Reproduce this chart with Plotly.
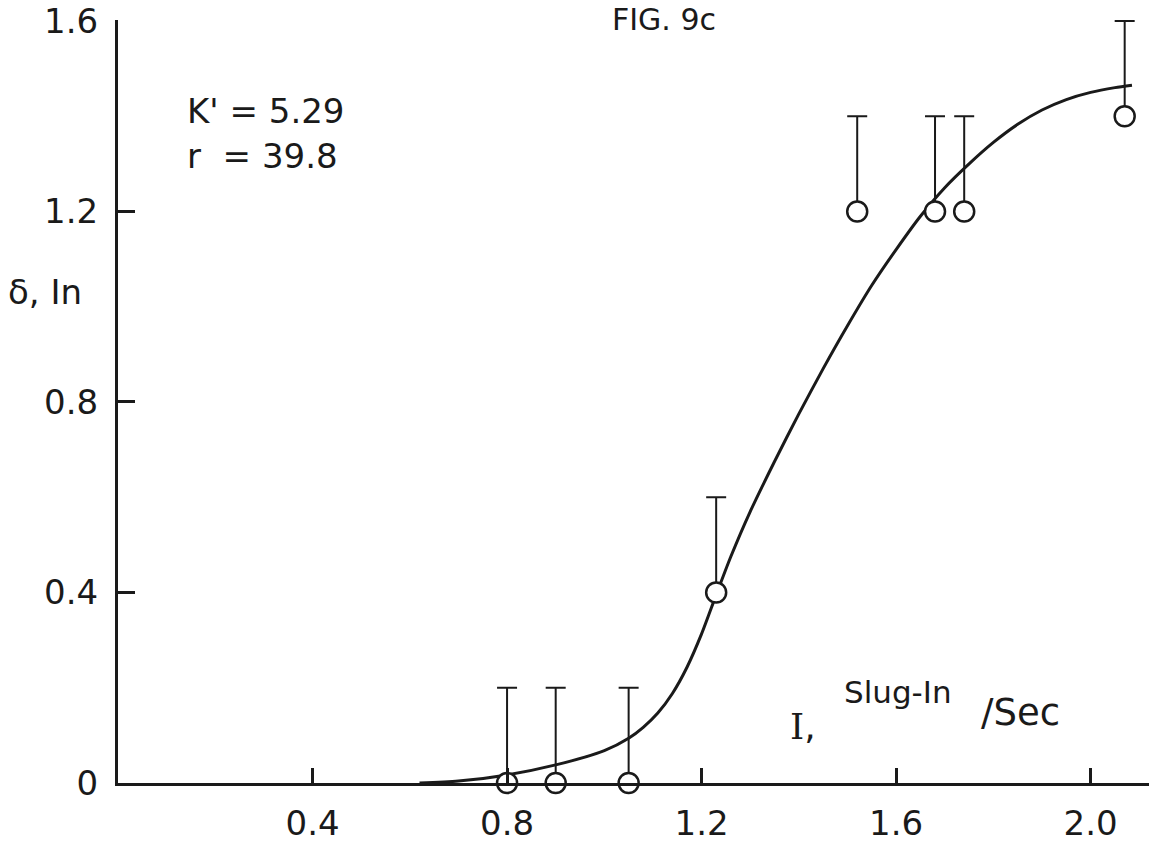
import plotly.graph_objects as go

# ---- data ----
impulse = [0.80, 0.90, 1.05, 1.23, 1.52, 1.68, 1.74, 2.07]
deflection = [0.0, 0.0, 0.0, 0.4, 1.2, 1.2, 1.2, 1.4]
err_up = [0.2, 0.2, 0.2, 0.2, 0.2, 0.2, 0.2, 0.2]
err_down = [0, 0, 0, 0, 0, 0, 0, 0]

curve_x = [0.62, 0.70, 0.80, 0.90, 1.00, 1.05, 1.08, 1.11, 1.14, 1.17, 1.20,
           1.23, 1.26, 1.30, 1.35, 1.40, 1.45, 1.50, 1.55, 1.60, 1.65, 1.70,
           1.75, 1.80, 1.85, 1.90, 1.95, 2.00, 2.05, 2.085]
curve_y = [0.0, 0.004, 0.017, 0.038, 0.068, 0.094, 0.117, 0.147, 0.188, 0.243, 0.313,
           0.395, 0.475, 0.570, 0.675, 0.775, 0.870, 0.960, 1.045, 1.120, 1.190, 1.250,
           1.300, 1.345, 1.383, 1.413, 1.435, 1.450, 1.460, 1.465]

x_ticks = [0.4, 0.8, 1.2, 1.6, 2.0]
x_ticktext = ["0.4", "0.8", "1.2", "1.6", "2.0"]
y_ticks = [0, 0.4, 0.8, 1.2, 1.6]
y_ticktext = ["0", "0.4", "0.8", "1.2", "1.6"]

INK = "#1a1a1a"
FONT = "DejaVu Sans"

W, H = 1149, 843
L, R, T, B = 118, 0, 20, 47


def paper(xp, yp):
    return (xp - L) / (W - L - R), (H - B - yp) / (H - T - B)


fig = go.Figure()

fig.add_trace(go.Scatter(
    x=curve_x, y=curve_y, mode="lines",
    line=dict(color=INK, width=3, shape="spline", smoothing=0.7),
    hoverinfo="skip", showlegend=False, cliponaxis=False,
))

fig.add_trace(go.Scatter(
    x=impulse, y=deflection, mode="markers",
    marker=dict(symbol="circle", size=20, color="white",
                line=dict(color=INK, width=2.5)),
    error_y=dict(type="data", symmetric=False, array=err_up, arrayminus=err_down,
                 color=INK, thickness=2, width=10),
    showlegend=False, cliponaxis=False,
))

annotations = []


def add_text(text, xp, yp, size, xanchor="left"):
    px_, py_ = paper(xp, yp)
    annotations.append(dict(
        text=text, x=px_, y=py_, xref="paper", yref="paper",
        xanchor=xanchor, yanchor="middle", showarrow=False,
        font=dict(family=FONT, size=size, color=INK),
    ))


add_text("FIG. 9c", 664, 19, 30, xanchor="center")
add_text("K' = 5.29", 185, 113, 34)
add_text("r&nbsp;&nbsp;= 39.8", 185, 158, 34)
add_text("δ, In", 6, 297, 34)
add_text("<span style='font-family:DejaVu Serif'>I</span>,", 788, 739, 36)
add_text("Slug-In", 842, 703, 31)
add_text("/Sec", 979, 724, 37)

fig.update_layout(
    width=W, height=H, autosize=False,
    margin=dict(l=L, r=R, t=T, b=B, pad=0),
    paper_bgcolor="white", plot_bgcolor="white",
    annotations=annotations,
    xaxis=dict(
        range=[0, 2.12], showgrid=False, zeroline=False,
        showline=True, linecolor=INK, linewidth=3,
        ticks="inside", ticklen=15, tickwidth=2.5, tickcolor=INK,
        tickvals=x_ticks, ticktext=x_ticktext,
        tickfont=dict(family=FONT, size=34, color=INK),
        ticklabelstandoff=8,
    ),
    yaxis=dict(
        range=[0, 1.602], showgrid=False, zeroline=False,
        showline=True, linecolor=INK, linewidth=3,
        ticks="inside", ticklen=17, tickwidth=2.5, tickcolor=INK,
        tickvals=y_ticks, ticktext=y_ticktext,
        tickfont=dict(family=FONT, size=34, color=INK),
        ticklabelstandoff=10,
    ),
)

fig.write_html("out.html")
